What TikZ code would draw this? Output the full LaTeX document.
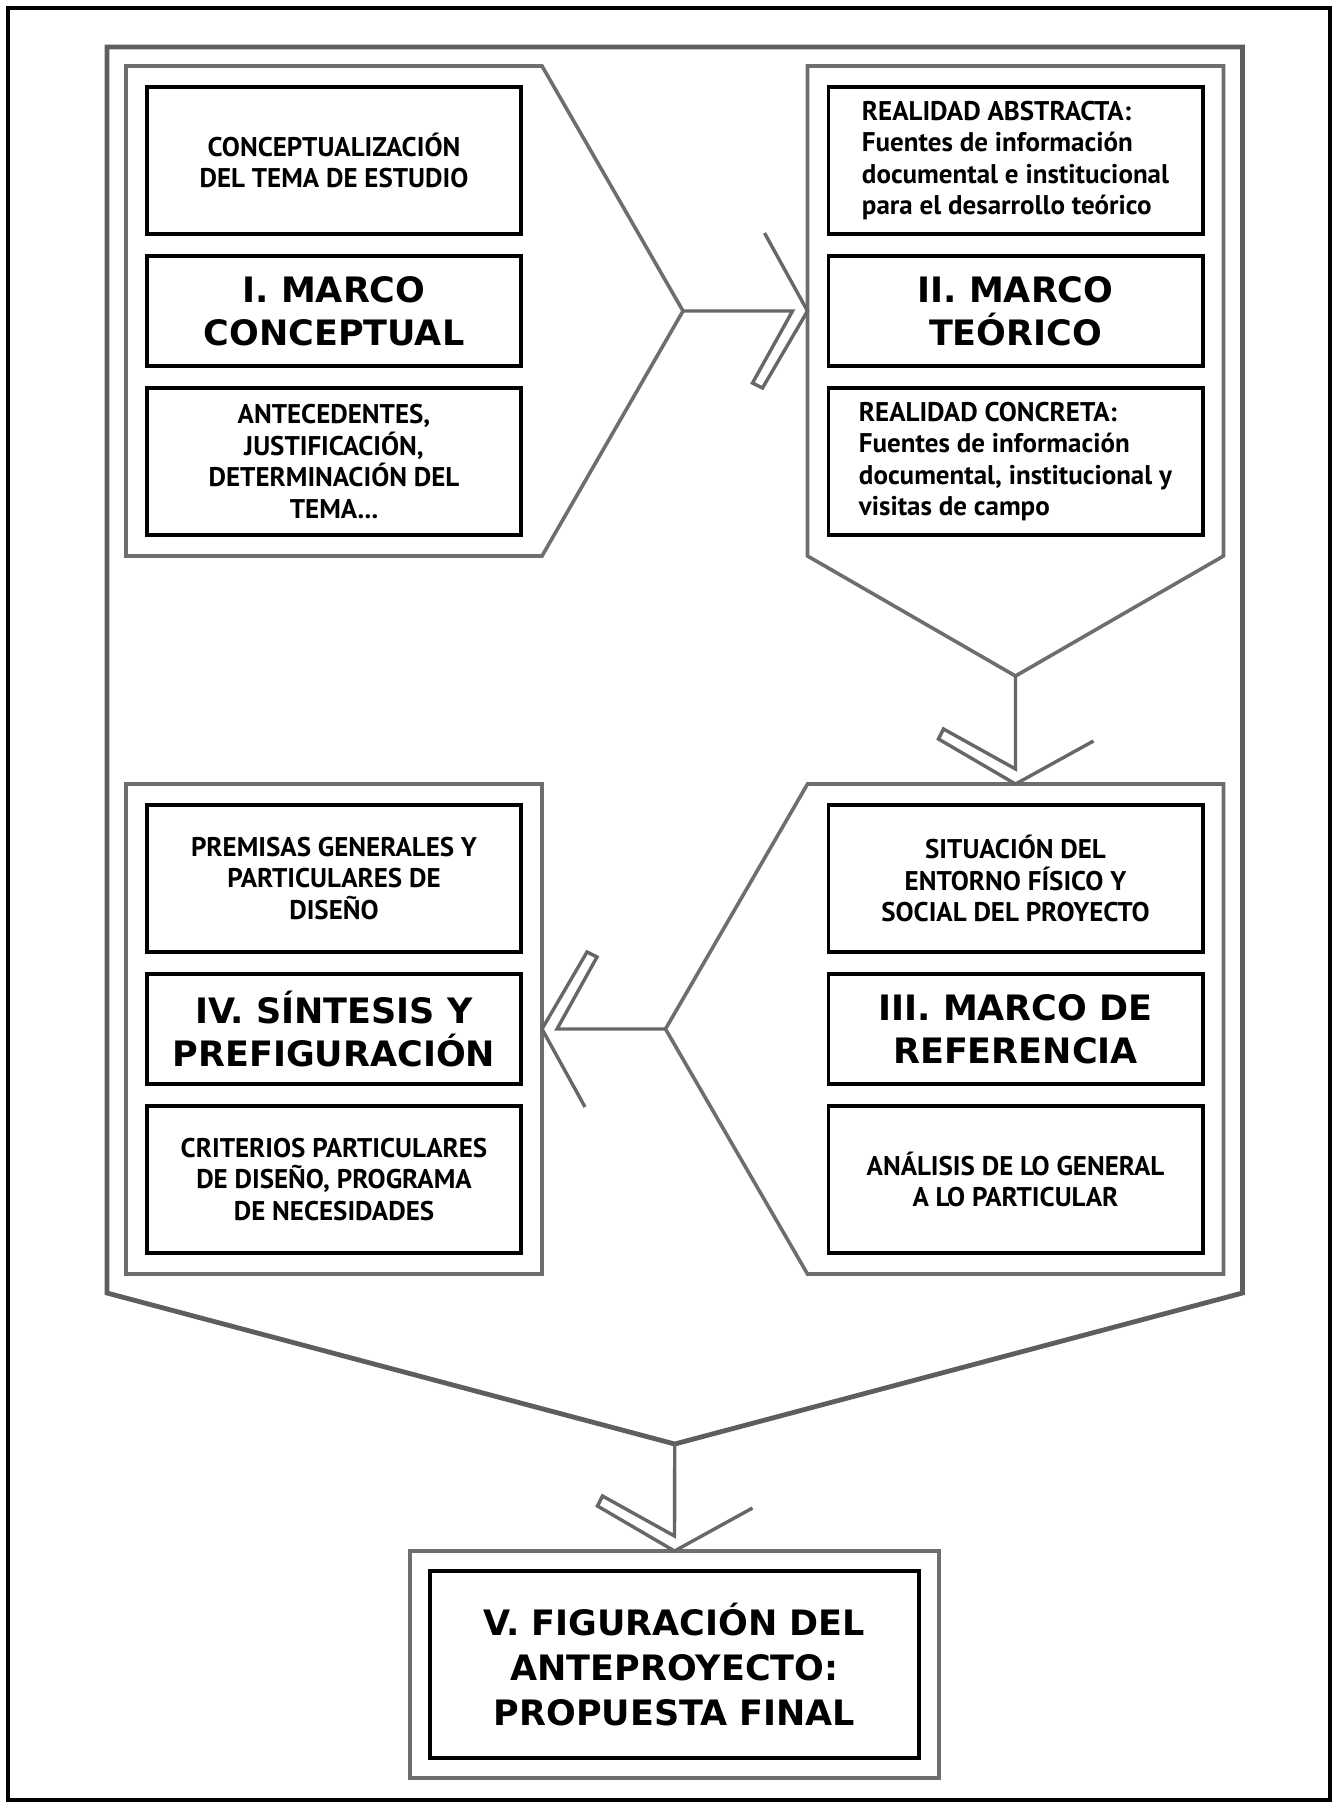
\documentclass[tikz,border=0pt]{standalone}
\usepackage{fontspec}
\setmainfont{PT Sans}
\newfontfamily\titlefont{DejaVu Sans}
\usetikzlibrary{positioning,calc,fit}
\definecolor{framegray}{HTML}{5E5E5E}
\definecolor{panelgray}{HTML}{6E6E6E}
\definecolor{flowgray}{HTML}{676767}
\tikzstyle{block} = [rectangle, draw=black, line width=1.9pt, minimum width=187.1pt, text centered]
\tikzstyle{note} = [block, minimum height=73.6pt, font=\bfseries\fontsize{13.5}{15.8}\selectfont]
\tikzstyle{heading} = [block, minimum height=55.1pt, font=\titlefont\bfseries\fontsize{17.5}{21.5}\selectfont]
\tikzstyle{panelfit} = [inner sep=9.5pt, outer sep=0pt]
\tikzstyle{panel} = [draw=panelgray, line width=1.8pt]
\tikzstyle{bigframe} = [draw=framegray, line width=2.4pt]
\tikzstyle{flow} = [draw=flowgray, line width=1.7pt]

\begin{document}
\begin{tikzpicture}[
    x=0.5pt, y=0.5pt,
    node distance=9pt,
    every node/.style={align=center}
]
    \useasboundingbox (0,0) rectangle (1338,-1808);
    \draw[line width=2pt] (8,-8) rectangle (1330,-1800);

    \node[note] (concept) at (334,-160.5) {CONCEPTUALIZACIÓN\\DEL TEMA DE ESTUDIO};
    \node[heading, below=of concept] (marcoI) {I. MARCO\\CONCEPTUAL};
    \node[note, below=of marcoI] (antecedentes) {ANTECEDENTES,\\JUSTIFICACIÓN,\\DETERMINACIÓN DEL\\TEMA...};

    \node[note, align=left] (abstracta) at (1015.5,-160.5) {REALIDAD ABSTRACTA:\\Fuentes de información\\documental e institucional\\para el desarrollo teórico};
    \node[heading, below=of abstracta] (marcoII) {II. MARCO\\TEÓRICO};
    \node[note, align=left, below=of marcoII] (concreta) {REALIDAD CONCRETA:\\Fuentes de información\\documental, institucional y\\visitas de campo};

    \node[note] (entorno) at (1015.5,-878.5) {SITUACIÓN DEL\\ENTORNO FÍSICO Y\\SOCIAL DEL PROYECTO};
    \node[heading, below=of entorno] (marcoIII) {III. MARCO DE\\REFERENCIA};
    \node[note, below=of marcoIII] (analisis) {ANÁLISIS DE LO GENERAL\\A LO PARTICULAR};

    \node[note] (premisas) at (334,-878.5) {PREMISAS GENERALES Y\\PARTICULARES DE\\DISEÑO};
    \node[heading, below=of premisas] (marcoIV) {IV. SÍNTESIS Y\\PREFIGURACIÓN};
    \node[note, below=of marcoIV] (criterios) {CRITERIOS PARTICULARES\\DE DISEÑO, PROGRAMA\\DE NECESIDADES};

    \node[panelfit, fit=(concept)(antecedentes)] (panelI) {};
    \node[panelfit, fit=(abstracta)(concreta)] (panelII) {};
    \node[panelfit, fit=(entorno)(analisis)] (panelIII) {};
    \node[panelfit, fit=(premisas)(criterios)] (panelIV) {};
    \node[panelfit, fit=(panelI)(panelII)(panelIII)(panelIV)] (all) {};

    \coordinate (tipI) at ($(panelI.east)+(141,0)$);
    \coordinate (tipII) at ($(panelII.south)+(0,-120)$);
    \coordinate (tipIII) at ($(panelIII.west)+(-142,0)$);
    \coordinate (tipAll) at ($(all.south)+(0,-151)$);

    \draw[bigframe] (all.north west) -- (all.north east) -- (all.south east)
        -- (tipAll) -- (all.south west) -- cycle;
    \draw[panel] (panelI.north west) -- (panelI.north east) -- (tipI)
        -- (panelI.south east) -- (panelI.south west) -- cycle;
    \draw[panel] (panelII.north west) -- (panelII.north east) -- (panelII.south east)
        -- (tipII) -- (panelII.south west) -- cycle;
    \draw[panel] (panelIII.north west) -- (panelIII.north east) -- (panelIII.south east)
        -- (panelIII.south west) -- (tipIII) -- cycle;
    \draw[panel] (panelIV.north west) rectangle (panelIV.south east);

    \node[heading, minimum width=244.6pt, minimum height=93.6pt,
        font=\titlefont\bfseries\fontsize{17.5}{22.5}\selectfont]
        (figuracion) at (674.5,-1664.5) {V. FIGURACIÓN DEL\\ANTEPROYECTO:\\PROPUESTA FINAL};
    \node[panelfit, inner sep=9pt, fit=(figuracion)] (final) {};
    \draw[panel] (final.north west) rectangle (final.south east);

    \draw[flow, shift={(panelII.west)}] (tipI)
        -- (-15,0) -- (-55,-72) -- (-45,-77) -- (0,0) -- (-43,78);
    \draw[flow, shift={(panelIII.north)}, rotate=-90] (tipII)
        -- (-15,0) -- (-55,-72) -- (-45,-77) -- (0,0) -- (-43,78);
    \draw[flow, shift={(panelIV.east)}, rotate=180] (tipIII)
        -- (-15,0) -- (-55,-72) -- (-45,-77) -- (0,0) -- (-43,78);
    \draw[flow, shift={(final.north)}, rotate=-90] (tipAll)
        -- (-15,0) -- (-55,-72) -- (-45,-77) -- (0,0) -- (-43,78);
\end{tikzpicture}
\end{document}
